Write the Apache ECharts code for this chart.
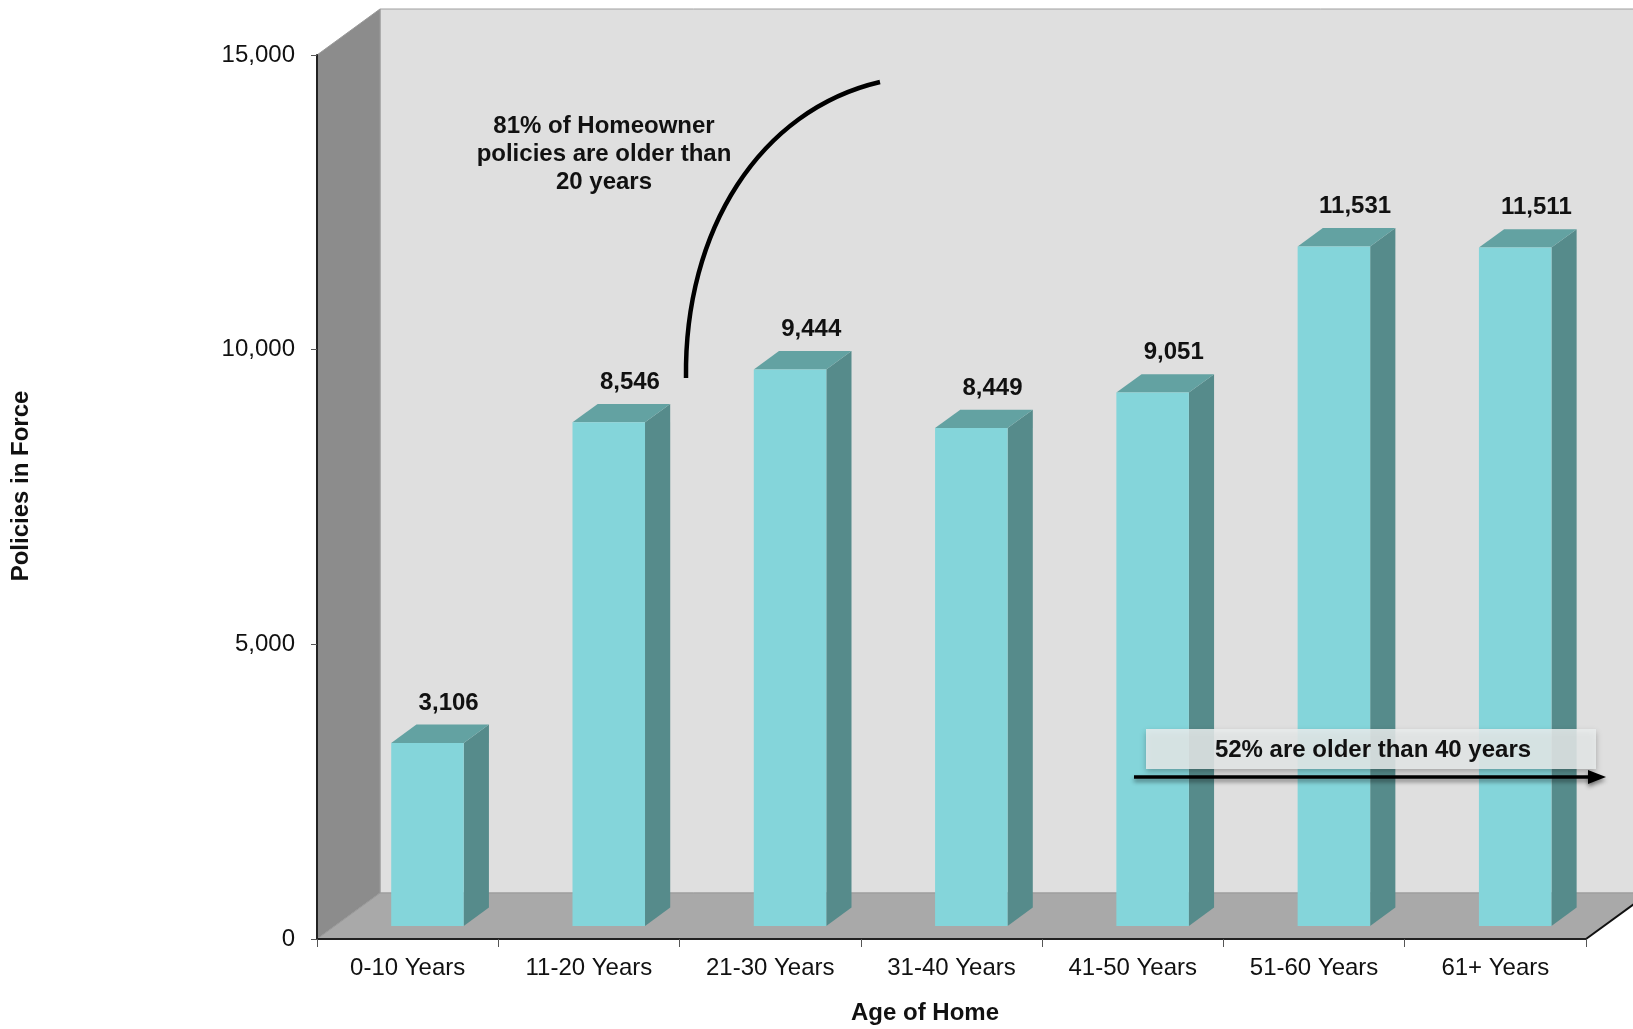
<!DOCTYPE html>
<html>
<head>
<meta charset="utf-8">
<script src="https://cdn.jsdelivr.net/npm/echarts@6/dist/echarts.min.js"></script>
<style>
html,body{margin:0;padding:0;background:#fff;}
#chart{width:1633px;height:1029px;}
</style>
</head>
<body>
<div id="chart"></div>
<script>
// ---- data ----
var categories = ['0-10 Years', '11-20 Years', '21-30 Years', '31-40 Years', '41-50 Years', '51-60 Years', '61+ Years'];
var policies = [3106, 8546, 9444, 8449, 9051, 11531, 11511];
var yTicks = [0, 5000, 10000, 15000];
var yTitle = 'Policies in Force';
var xTitle = 'Age of Home';
var note1 = '81% of Homeowner\npolicies are older than\n20 years';
var note2 = '52% are older than 40 years';

// ---- styling constants (3D oblique depth) ----
var DX = 63, DY = -46;       // full depth of the chart box
var F0 = 0.283, F1 = 0.683;  // bar depth placement (fraction of box depth)
var BAR_W = 0.40;            // bar front width, fraction of band
var FONT = 'Liberation Sans, Arial, sans-serif';

var chart = echarts.init(document.getElementById('chart'), null, {renderer: 'canvas'});

function wallsRender(params, api) {
  var cs = params.coordSys;
  var x = cs.x, y = cs.y, w = cs.width, h = cs.height;
  return {
    type: 'group',
    children: [
      { type: 'rect', shape: {x: x + DX, y: y + DY, width: w, height: h},
        style: {fill: '#dfdfdf', stroke: '#a0a0a0', lineWidth: 1} },
      { type: 'polygon', shape: {points: [[x, y], [x + DX, y + DY], [x + DX, y + h + DY], [x, y + h]]},
        style: {fill: '#8c8c8c', stroke: '#9a9a9a', lineWidth: 1} },
      { type: 'polygon', shape: {points: [[x, y + h], [x + DX, y + h + DY], [x + w + DX, y + h + DY], [x + w, y + h]]},
        style: {fill: '#a9a9a9', stroke: '#9a9a9a', lineWidth: 1} },
      { type: 'line', shape: {x1: x + w, y1: y + h, x2: x + w + DX, y2: y + h + DY},
        style: {stroke: '#111', lineWidth: 2} }
    ]
  };
}

function barRender(params, api) {
  var i = api.value(0), v = api.value(1);
  var top = api.coord([i, v]);
  var base = api.coord([i, 0]);
  var bw = api.size([1, 0])[0];
  var w = bw * BAR_W;
  var xl = top[0] - w / 2 + DX * F0 + 2, xr = xl + w;
  var yt = top[1] + DY * F0, yb = base[1] + DY * F0;
  var ddx = DX * (F1 - F0), ddy = DY * (F1 - F0);
  return {
    type: 'group',
    children: [
      { type: 'polygon', shape: {points: [[xr, yt], [xr + ddx, yt + ddy], [xr + ddx, yb + ddy], [xr, yb]]},
        style: {fill: '#568b8b'} },
      { type: 'polygon', shape: {points: [[xl, yt], [xl + ddx, yt + ddy], [xr + ddx, yt + ddy], [xr, yt]]},
        style: {fill: '#63a2a2'} },
      { type: 'rect', shape: {x: xl, y: yt, width: w, height: yb - yt},
        style: {fill: '#84d5da'} },
      { type: 'text', x: top[0] + 41, y: yt - 40,
        style: {text: echarts.format.addCommas(v), fill: '#111', font: 'bold 24px ' + FONT,
                textAlign: 'center', textVerticalAlign: 'middle'} }
    ]
  };
}

var option = {
  animation: false,
  backgroundColor: '#ffffff',
  grid: {left: 317, right: 47, top: 55, bottom: 90, containLabel: false},
  xAxis: {
    type: 'category',
    data: categories,
    z: 10,
    axisLine: {show: true, lineStyle: {color: '#222', width: 2}},
    axisTick: {show: true, length: 8, lineStyle: {color: '#555', width: 1}},
    axisLabel: {color: '#111', fontSize: 24, fontFamily: FONT, margin: 17},
    splitLine: {show: false}
  },
  yAxis: {
    type: 'value',
    min: yTicks[0],
    max: yTicks[yTicks.length - 1],
    interval: yTicks[1] - yTicks[0],
    z: 10,
    axisLine: {show: true, lineStyle: {color: '#222', width: 2}},
    axisTick: {show: true, length: 6, lineStyle: {color: '#555', width: 1}},
    axisLabel: {color: '#111', fontSize: 24, fontFamily: FONT, margin: 22,
      formatter: function (val) { return echarts.format.addCommas(val); }},
    splitLine: {show: false}
  },
  series: [
    { type: 'custom', name: 'walls', renderItem: wallsRender, data: [[0, 0]], z: 1, silent: true },
    { type: 'custom', name: 'Policies', renderItem: barRender,
      encode: {x: 0, y: 1},
      data: policies.map(function (p, i) { return [i, p]; }), z: 3 }
  ],
  graphic: [
    { type: 'text', x: 21, y: 486, rotation: Math.PI / 2,
      style: {text: yTitle, font: 'bold 24px ' + FONT, fill: '#111', textAlign: 'center', textVerticalAlign: 'middle'} },
    { type: 'text', x: 925, y: 1013,
      style: {text: xTitle, font: 'bold 24px ' + FONT, fill: '#111', textAlign: 'center', textVerticalAlign: 'middle'} },
    { type: 'text', x: 604, y: 154, z: 20,
      style: {text: note1, font: 'bold 24px ' + FONT, fill: '#111', textAlign: 'center', textVerticalAlign: 'middle', lineHeight: 28} },
    { type: 'bezierCurve', z: 20,
      shape: {x1: 686, y1: 378, cpx1: 684, cpy1: 230, cpx2: 760, cpy2: 110, x2: 880, y2: 82},
      style: {stroke: '#000', lineWidth: 4.5, fill: null} },
    { type: 'rect', z: 20, shape: {x: 1146, y: 729, width: 450, height: 40},
      style: {fill: 'rgba(234,237,237,0.85)', shadowBlur: 6, shadowOffsetY: 3, shadowColor: 'rgba(0,0,0,0.3)'} },
    { type: 'text', z: 21, x: 1373, y: 750,
      style: {text: note2, font: 'bold 24px ' + FONT, fill: '#111', textAlign: 'center', textVerticalAlign: 'middle'} },
    { type: 'line', z: 21, shape: {x1: 1134, y1: 777, x2: 1592, y2: 777},
      style: {stroke: '#000', lineWidth: 3.5, shadowBlur: 4, shadowOffsetY: 3, shadowColor: 'rgba(0,0,0,0.45)'} },
    { type: 'polygon', z: 21, shape: {points: [[1588, 770], [1606, 777], [1588, 784]]},
      style: {fill: '#000', shadowBlur: 4, shadowOffsetY: 3, shadowColor: 'rgba(0,0,0,0.45)'} }
  ]
};
chart.setOption(option);
</script>
</body>
</html>
